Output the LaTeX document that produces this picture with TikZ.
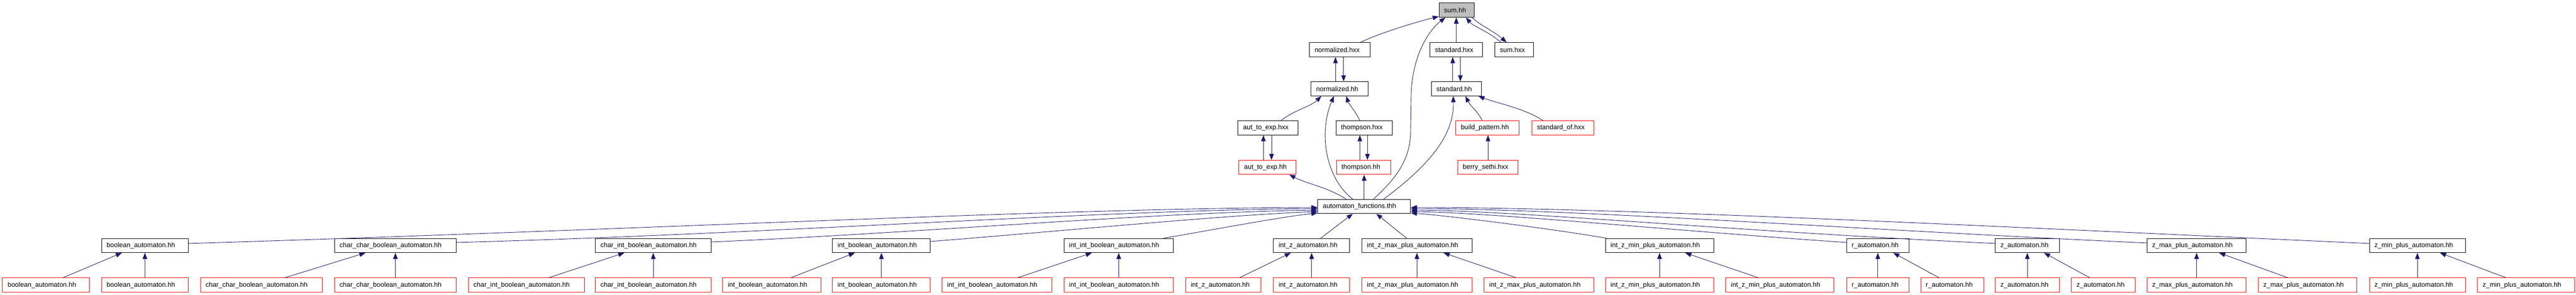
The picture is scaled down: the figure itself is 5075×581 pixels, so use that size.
\documentclass[tikz,border=0pt]{standalone}
\usepackage{fontspec}
\setmainfont{Liberation Sans}
\usetikzlibrary{arrows.meta,calc}
\definecolor{edgeblue}{HTML}{191970}
\definecolor{boxred}{HTML}{FF0000}
\definecolor{selfgrey}{HTML}{BFBFBF}
\newcommand\dgbox[6]{%
  \pgfmathsetmacro\dgw{#3-#2}%
  \pgfmathsetmacro\dgc{(#3+#2)/2}%
  \pgfmathsetmacro\dgt{#3-#2-20}%
  \node[#5, minimum width=\dgw pt, text width=\dgt pt] (#1) at (\dgc,#4+14) {\mbox{#6}};%
}
\tikzset{
  gbox/.style={draw=black, line width=1pt, rectangle, minimum height=28pt,
    inner xsep=10pt, inner ysep=0pt, align=left, fill=white,
    font=\fontsize{13.2}{15}\selectfont},
  nbox/.style={gbox},
  rbox/.style={gbox, draw=boxred},
  sbox/.style={gbox, fill=selfgrey},
  conn/.style={draw=edgeblue, line width=0.9pt, -{Triangle[length=12pt,width=9pt]}},
}
\begin{document}
\begin{tikzpicture}[x=1pt,y=-1pt]
\useasboundingbox (0,0) rectangle (5075,581);
% upper part
\dgbox{sum}{2835}{2904}{6}{sbox}{sum.hh}
\dgbox{nhxx}{2580}{2699}{84}{nbox}{normalized.hxx}
\dgbox{shxx}{2817}{2921}{84}{nbox}{standard.hxx}
\dgbox{sumhxx}{2945}{3021}{84}{nbox}{sum.hxx}
\dgbox{nhh}{2583}{2695}{161}{nbox}{normalized.hh}
\dgbox{shh}{2820}{2919}{161}{nbox}{standard.hh}
\dgbox{atehxx}{2439}{2557}{238}{nbox}{aut\_to\_exp.hxx}
\dgbox{thxx}{2632}{2743}{238}{nbox}{thompson.hxx}
\dgbox{bp}{2868}{2993}{238}{rbox}{build\_pattern.hh}
\dgbox{sof}{3018}{3140}{238}{rbox}{standard\_of.hxx}
\dgbox{atehh}{2441}{2553}{316}{rbox}{aut\_to\_exp.hh}
\dgbox{thh}{2633}{2740}{316}{rbox}{thompson.hh}
\dgbox{bs}{2872}{2991}{316}{rbox}{berry\_sethi.hxx}
\dgbox{af}{2596}{2779}{393}{nbox}{automaton\_functions.thh}
% row 6
\dgbox{p1}{200}{371}{470}{nbox}{boolean\_automaton.hh}
\dgbox{p2}{659}{899}{470}{nbox}{char\_char\_boolean\_automaton.hh}
\dgbox{p3}{1173}{1401}{470}{nbox}{char\_int\_boolean\_automaton.hh}
\dgbox{p4}{1640}{1833}{470}{nbox}{int\_boolean\_automaton.hh}
\dgbox{p5}{2096}{2312}{470}{nbox}{int\_int\_boolean\_automaton.hh}
\dgbox{p6}{2509}{2659}{470}{nbox}{int\_z\_automaton.hh}
\dgbox{p7}{2683}{2900}{470}{nbox}{int\_z\_max\_plus\_automaton.hh}
\dgbox{p8}{3163}{3376}{470}{nbox}{int\_z\_min\_plus\_automaton.hh}
\dgbox{p9}{3638}{3761}{470}{nbox}{r\_automaton.hh}
\dgbox{p10}{3931}{4057}{470}{nbox}{z\_automaton.hh}
\dgbox{p11}{4230}{4425}{470}{nbox}{z\_max\_plus\_automaton.hh}
\dgbox{p12}{4668}{4857}{470}{nbox}{z\_min\_plus\_automaton.hh}
% row 7
\dgbox{a1}{5}{176}{548}{rbox}{boolean\_automaton.hh}
\dgbox{b1}{200}{371}{548}{rbox}{boolean\_automaton.hh}
\dgbox{a2}{395}{635}{548}{rbox}{char\_char\_boolean\_automaton.hh}
\dgbox{b2}{659}{899}{548}{rbox}{char\_char\_boolean\_automaton.hh}
\dgbox{a3}{923}{1151}{548}{rbox}{char\_int\_boolean\_automaton.hh}
\dgbox{b3}{1173}{1401}{548}{rbox}{char\_int\_boolean\_automaton.hh}
\dgbox{a4}{1424}{1617}{548}{rbox}{int\_boolean\_automaton.hh}
\dgbox{b4}{1640}{1833}{548}{rbox}{int\_boolean\_automaton.hh}
\dgbox{a5}{1856}{2072}{548}{rbox}{int\_int\_boolean\_automaton.hh}
\dgbox{b5}{2096}{2312}{548}{rbox}{int\_int\_boolean\_automaton.hh}
\dgbox{a6}{2336}{2484}{548}{rbox}{int\_z\_automaton.hh}
\dgbox{b6}{2509}{2659}{548}{rbox}{int\_z\_automaton.hh}
\dgbox{a7}{2683}{2900}{548}{rbox}{int\_z\_max\_plus\_automaton.hh}
\dgbox{b7}{2924}{3140}{548}{rbox}{int\_z\_max\_plus\_automaton.hh}
\dgbox{a8}{3163}{3376}{548}{rbox}{int\_z\_min\_plus\_automaton.hh}
\dgbox{b8}{3400}{3613}{548}{rbox}{int\_z\_min\_plus\_automaton.hh}
\dgbox{a9}{3638}{3761}{548}{rbox}{r\_automaton.hh}
\dgbox{b9}{3784}{3908}{548}{rbox}{r\_automaton.hh}
\dgbox{a10}{3931}{4057}{548}{rbox}{z\_automaton.hh}
\dgbox{b10}{4081}{4207}{548}{rbox}{z\_automaton.hh}
\dgbox{a11}{4230}{4425}{548}{rbox}{z\_max\_plus\_automaton.hh}
\dgbox{b11}{4449}{4643}{548}{rbox}{z\_max\_plus\_automaton.hh}
\dgbox{a12}{4668}{4857}{548}{rbox}{z\_min\_plus\_automaton.hh}
\dgbox{b12}{4881}{5072}{548}{rbox}{z\_min\_plus\_automaton.hh}

% upper edges
\draw[conn] ($(nhxx.north)+(40.5,0)$) .. controls +(30,-15) and +(-50,12) .. ($(sum.south west)+(0,-2)$);
\draw[conn] (shxx.north) -- (shxx.north |- sum.south);
\draw[conn] ($(sumhxx.north)+(-26,0)$) .. controls +(-25,-22) and +(15,18) .. ($(sum.south)+(18.5,0)$);
\draw[conn] ($(sum.south)+(30.5,0)$) .. controls +(15,15) and +(-25,-22) .. ($(sumhxx.north)+(-15,0)$);
\draw[conn] ($(af.north)+(18.5,0)$) .. controls (2752,350) and (2778,315) .. (2779,260) -- (2780,190) .. controls (2781,115) and (2812,62) .. ($(sum.south)+(-22,0)$);
\draw[conn] ($(nhh.north)+(-8,0)$) -- ($(nhxx.south)+(-8.5,0)$);
\draw[conn] ($(nhxx.south)+(7.5,0)$) -- ($(nhh.north)+(8,0)$);
\draw[conn] ($(shh.north)+(-7.5,0)$) -- ($(shxx.south)+(-7,0)$);
\draw[conn] ($(shxx.south)+(8,0)$) -- ($(shh.north)+(7.5,0)$);
\draw[conn] ($(atehxx.north)+(26,0)$) .. controls +(25,-20) and +(-20,20) .. ($(nhh.south)+(-36,0)$);
\draw[conn] ($(af.north)+(-22.5,0)$) .. controls (2610,350) and (2598,260) .. ($(nhh.south)+(-11,0)$);
\draw[conn] ($(thxx.north)+(-8.5,0)$) .. controls +(-10,-20) and +(5,15) .. ($(nhh.south)+(13,0)$);
\draw[conn] ($(af.north)+(38.5,0)$) .. controls (2810,330) and (2865,270) .. ($(shh.south)+(-6.5,0)$);
\draw[conn] ($(bp.north)+(-10.5,0)$) .. controls +(-10,-20) and +(10,20) .. ($(shh.south)+(17.5,0)$);
\draw[conn] ($(sof.north)+(-39,0)$) .. controls +(-40,-25) and +(40,15) .. ($(shh.south)+(43,0)$);
\draw[conn] ($(atehh.north)+(-8,0)$) -- ($(atehxx.south)+(-9,0)$);
\draw[conn] ($(atehxx.south)+(7,0)$) -- ($(atehh.north)+(8,0)$);
\draw[conn] ($(thh.north)+(-7.5,0)$) -- ($(thxx.south)+(-8.5,0)$);
\draw[conn] ($(thxx.south)+(6.5,0)$) -- ($(thh.north)+(7.5,0)$);
\draw[conn] (bs.north) -- (bs.north |- bp.south);
\draw[conn] ($(af.north)+(-35.5,0)$) .. controls +(-40,-25) and +(40,20) .. ($(atehh.south)+(43,0)$);
\draw[conn] (af.north) -- (af.north |- thh.south);

% row 6 -> automaton_functions
\draw[conn] ($(p1.east)+(0,-4)$) .. controls (1200,455) and (2100,410) .. ($(af.west)+(0,2)$);
\draw[conn] ($(p2.east)+(0,-6)$) .. controls (1500,462) and (2150,415) .. ($(af.west)+(0,4)$);
\draw[conn] ($(p3.east)+(0,-7)$) .. controls (1800,460) and (2250,420) .. ($(af.west)+(0,7)$);
\draw[conn] ($(p4.east)+(0,-8)$) .. controls (2100,455) and (2400,425) .. ($(af.west)+(0,10)$);
\draw[conn] ($(p5.north east)+(-20,0)$) .. controls (2380,455) and (2520,428) .. ($(af.west)+(0,13)$);
\draw[conn] ($(p6.north)+(18,0)$) -- ($(af.south)+(-22.5,0)$);
\draw[conn] ($(p7.north)+(-20.5,0)$) -- ($(af.south)+(24,0)$);
\draw[conn] ($(p8.north west)+(2,0)$) .. controls (3050,450) and (2850,425) .. ($(af.east)+(0,13)$);
\draw[conn] ($(p9.west)+(0,-6)$) .. controls (3300,455) and (2950,420) .. ($(af.east)+(0,10)$);
\draw[conn] ($(p10.west)+(0,-4)$) .. controls (3400,455) and (3000,416) .. ($(af.east)+(0,7)$);
\draw[conn] ($(p11.west)+(0,-5)$) .. controls (3700,455) and (3100,412) .. ($(af.east)+(0,4)$);
\draw[conn] ($(p12.west)+(0,-4)$) .. controls (4000,450) and (3200,409) .. ($(af.east)+(0,2)$);

% row 7 -> row 6
\draw[conn] ($(a1.north)+(33.5,0)$) -- ($(p1.south)+(-45.5,0)$);
\draw[conn] (b1.north) -- (p1.south);
\draw[conn] ($(a2.north)+(46,0)$) -- ($(p2.south)+(-59,0)$);
\draw[conn] (b2.north) -- (p2.south);
\draw[conn] ($(a3.north)+(44,0)$) -- ($(p3.south)+(-57,0)$);
\draw[conn] (b3.north) -- (p3.south);
\draw[conn] ($(a4.north)+(37.5,0)$) -- ($(p4.south)+(-52.5,0)$);
\draw[conn] (b4.north) -- (p4.south);
\draw[conn] ($(a5.north)+(41,0)$) -- ($(p5.south)+(-53,0)$);
\draw[conn] (b5.north) -- (p5.south);
\draw[conn] ($(a6.north)+(32,0)$) -- ($(p6.south)+(-41,0)$);
\draw[conn] (b6.north) -- (p6.south);
\draw[conn] (a7.north) -- (p7.south);
\draw[conn] ($(b7.north)+(-45,0)$) -- ($(p7.south)+(52.5,0)$);
\draw[conn] (a8.north) -- (p8.south);
\draw[conn] ($(b8.north)+(-42.5,0)$) -- ($(p8.south)+(50.5,0)$);
\draw[conn] (a9.north) -- (p9.south);
\draw[conn] ($(b9.north)+(-26,0)$) -- ($(p9.south)+(30.5,0)$);
\draw[conn] (a10.north) -- (p10.south);
\draw[conn] ($(b10.north)+(-27,0)$) -- ($(p10.south)+(33,0)$);
\draw[conn] (a11.north) -- (p11.south);
\draw[conn] ($(b11.north)+(-39,0)$) -- ($(p11.south)+(44.5,0)$);
\draw[conn] (a12.north) -- (p12.south);
\draw[conn] ($(b12.north)+(-39.5,0)$) -- ($(p12.south)+(44.5,0)$);
\end{tikzpicture}
\end{document}
